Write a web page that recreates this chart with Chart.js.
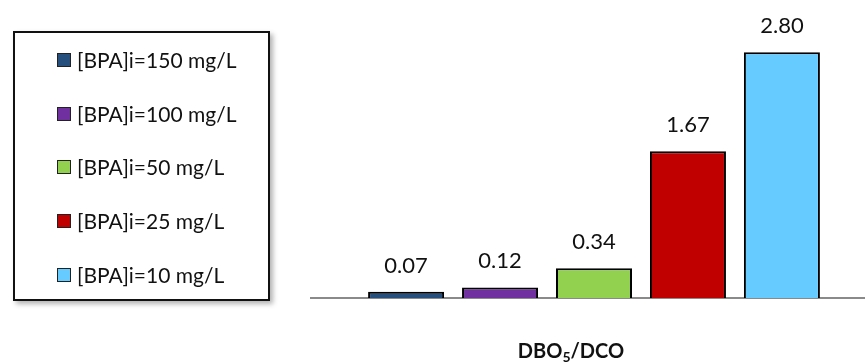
<!DOCTYPE html>
<html>
<head>
<meta charset="utf-8">
<script src="https://cdn.jsdelivr.net/npm/chart.js@4/dist/chart.umd.min.js"></script>
<style>
  html, body { margin:0; padding:0; background:#fff; overflow:hidden; width:865px; height:364px; }
  #wrap { position:absolute; left:0; top:0; width:877px; height:364px; }
  #legend { position:absolute; left:13px; top:31px; width:253px; height:266px; border:2px solid #111; background:#fff;
            box-shadow: 3px 3px 5px rgba(0,0,0,0.3); font-family: Lato, "Open Sans", sans-serif; }
  .item { position:absolute; left:0; height:24px; line-height:24px; font-size:21px; color:#111; white-space:nowrap; }
  .sw { position:absolute; left:42px; top:5px; width:12px; height:12px; border:1px solid #222; }
  .txt { position:absolute; left:62px; top:0; }
</style>
</head>
<body>
<div id="wrap"><canvas id="c" width="877" height="364"></canvas></div>
<div id="legend"></div>
<script>
const categories = ['DBO5/DCO'];
const seriesLabels = ['[BPA]i=150 mg/L', '[BPA]i=100 mg/L', '[BPA]i=50 mg/L', '[BPA]i=25 mg/L', '[BPA]i=10 mg/L'];
const seriesValues = [0.07, 0.12, 0.34, 1.67, 2.80];
const seriesColors = ['#264F7E', '#7030A0', '#92D050', '#C00000', '#66CCFF'];
const axisTitleMain = 'DBO';
const axisTitleSub = '5';
const axisTitleTail = '/DCO';

// HTML legend built from the series arrays
const leg = document.getElementById('legend');
seriesLabels.forEach((lab, i) => {
  const it = document.createElement('div');
  it.className = 'item';
  it.style.top = (60 + i * 53.7 - 31 - 2 - 12) + 'px';
  const sw = document.createElement('span'); sw.className = 'sw'; sw.style.background = seriesColors[i];
  const tx = document.createElement('span'); tx.className = 'txt'; tx.textContent = lab;
  it.appendChild(sw); it.appendChild(tx); leg.appendChild(it);
});

const valueLabels = {
  id: 'valueLabels',
  afterDatasetsDraw(chart) {
    const ctx = chart.ctx;
    ctx.save();
    ctx.font = '22px Lato, "Open Sans", sans-serif';
    ctx.fillStyle = '#111';
    ctx.textAlign = 'center';
    ctx.textBaseline = 'alphabetic';
    chart.data.datasets.forEach((ds, i) => {
      const meta = chart.getDatasetMeta(i);
      meta.data.forEach((bar, j) => {
        ctx.fillText(ds.data[j].toFixed(2), bar.x, bar.y - 19);
      });
    });
    ctx.restore();
  }
};

const axisTitle = {
  id: 'axisTitle',
  afterDraw(chart) {
    const ctx = chart.ctx;
    ctx.save();
    const big = 'bold 20px Lato, "Open Sans", sans-serif';
    const small = 'bold 14px Lato, "Open Sans", sans-serif';
    ctx.font = big; const w1 = ctx.measureText(axisTitleMain).width; const w3 = ctx.measureText(axisTitleTail).width;
    ctx.font = small; const w2 = ctx.measureText(axisTitleSub).width;
    const total = w1 + w2 + w3;
    let x = 571 - total / 2;
    const base = 358;
    ctx.fillStyle = '#111';
    ctx.textAlign = 'left';
    ctx.textBaseline = 'alphabetic';
    ctx.font = big; ctx.fillText(axisTitleMain, x, base); x += w1;
    ctx.font = small; ctx.fillText(axisTitleSub, x, base + 4); x += w2;
    ctx.font = big; ctx.fillText(axisTitleTail, x, base);
    ctx.restore();
  }
};

new Chart(document.getElementById('c'), {
  type: 'bar',
  data: {
    labels: categories,
    datasets: seriesLabels.map((lab, i) => ({
      label: lab,
      data: [seriesValues[i]],
      backgroundColor: seriesColors[i],
      borderColor: '#000',
      borderWidth: 2,
      categoryPercentage: 0.83,
      barPercentage: 0.809
    }))
  },
  options: {
    responsive: false,
    animation: false,
    layout: { padding: { left: 311, right: 0, top: 17, bottom: 66 } },
    plugins: { legend: { display: false }, tooltip: { enabled: false } },
    scales: {
      x: {
        display: true,
        grid: { display: true, drawOnChartArea: false, drawTicks: false },
        border: { display: true, color: '#8a8a8a', width: 2 },
        ticks: { display: false },
        afterFit(axis) { axis.height = 0; }
      },
      y: { display: false, min: 0, max: 3.2 }
    }
  },
  plugins: [valueLabels, axisTitle]
});
</script>
</body>
</html>
